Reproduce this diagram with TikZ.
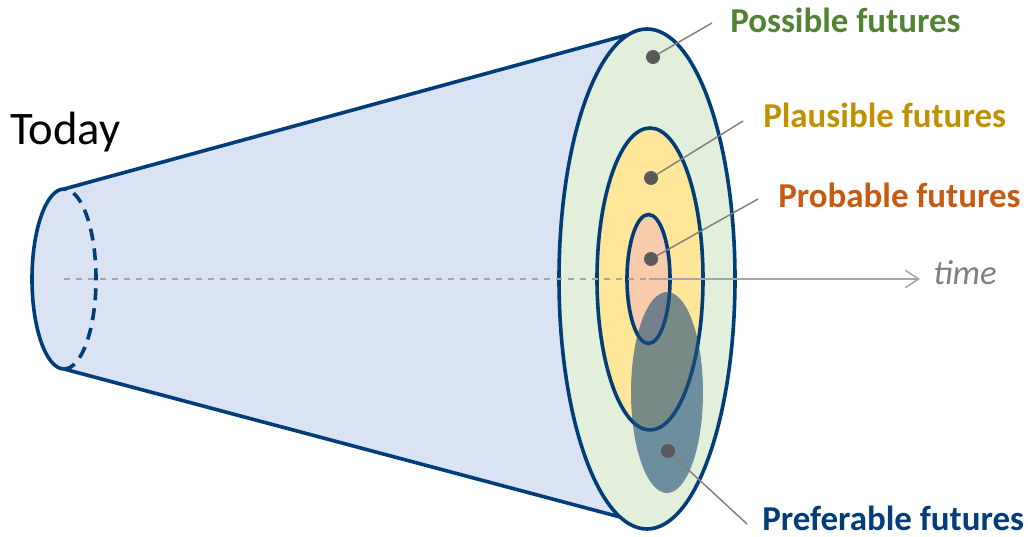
\documentclass[tikz,border=0pt]{standalone}
\usepackage{fontspec}
\setmainfont{Carlito}
\usetikzlibrary{shapes.geometric,arrows.meta}
\definecolor{coneblue}{HTML}{DAE3F3}
\definecolor{rimblue}{RGB}{0,61,121}
\definecolor{possfill}{HTML}{E2EFDA}
\definecolor{plausfill}{HTML}{FFE699}
\definecolor{probfill}{HTML}{F8CBAD}
\definecolor{preffill}{HTML}{1F4E79}
\definecolor{posstext}{HTML}{548235}
\definecolor{plaustext}{HTML}{BF9000}
\definecolor{probtext}{HTML}{C55A11}

\begin{document}
\begin{tikzpicture}[x=0.75pt, y=0.75pt,
	rim/.style={ellipse, draw=rimblue, line width=2.7pt, inner sep=0pt},
	dot/.style={circle, fill=black!65, inner sep=0pt, minimum size=10.5pt},
	leader/.style={draw=black!50, line width=1.1pt},
	futures/.style={font=\bfseries\fontsize{26.2}{31}\selectfont, anchor=base west, inner sep=0pt}]
	\useasboundingbox (0,0) rectangle (1028,536);
	\fill[coneblue] (64,347) -- (627,501) -- (620,19) -- (64,167) arc[start angle=270, end angle=90, x radius=32, y radius=90];
	\draw[rimblue, line width=2.7pt, line join=round] (627,501) -- (64,347) arc[start angle=90, end angle=270, x radius=32, y radius=90] -- (620,19);
	\draw[rimblue, line width=2.7pt, dash pattern=on 9pt off 6pt] (64,167) arc[start angle=-90, end angle=90, x radius=32, y radius=90];
	\coordinate (today) at (64,257);
	\node[rim, fill=possfill, minimum width=132pt, minimum height=375pt] (possible) at (647,257) {};
	\node[rim, fill=plausfill, minimum width=79.5pt, minimum height=226.5pt] (plausible) at (650,257) {};
	\node[rim, fill=probfill, minimum width=32.25pt, minimum height=96.75pt] (probable) at (648.5,257) {};
	\node[ellipse, fill=preffill, fill opacity=0.6, inner sep=0pt, minimum width=54pt, minimum height=150.75pt] (preferable) at (667,143.5) {};
	% time axis
	\coordinate (timetip) at (920,257);
	\draw[black!35, line width=1.1pt, dash pattern=on 4.5pt off 4.5pt] (today) -- (probable.center);
	\draw[black!35, line width=1.1pt, -{Straight Barb[length=10pt, width=13pt]}] (probable.center) -- (timetip);
	\node[font=\itshape\fontsize{26}{31}\selectfont, text=black!50, anchor=base west, inner sep=0pt] (time) at (933,251) {time};
	\node[font=\fontsize{35}{42}\selectfont, anchor=base west, inner sep=0pt] (todaylbl) at (10,391) {Today};
	% dots and labels
	\node[dot] (dotposs) at (653,479) {};
	\node[dot] (dotplaus) at (651,358) {};
	\node[dot] (dotprob) at (651,277) {};
	\node[dot] (dotpref) at (668,85) {};
	\coordinate (endposs) at (712,513);
	\coordinate (endplaus) at (743,415);
	\coordinate (endprob) at (758,337);
	\coordinate (endpref) at (747,12);
	\draw[leader] (dotposs) -- (endposs);
	\draw[leader] (dotplaus) -- (endplaus);
	\draw[leader] (dotprob) -- (endprob);
	\draw[leader] (dotpref) -- (endpref);
	\node[futures, text=posstext] (lblposs) at (730,503) {Possible futures};
	\node[futures, text=plaustext] (lblplaus) at (763,408) {Plausible futures};
	\node[futures, text=probtext] (lblprob) at (778,328) {Probable futures};
	\node[futures, text=rimblue] (lblpref) at (762,6) {Preferable futures};
\end{tikzpicture}
\end{document}
